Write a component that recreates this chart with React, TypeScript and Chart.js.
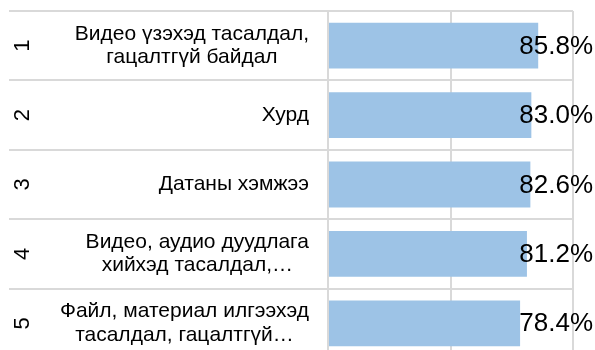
import React, { useEffect, useRef } from 'react';
import { Chart, registerables } from 'chart.js';

Chart.register(...registerables);

const ranks: string[] = ['1', '2', '3', '4', '5'];
const categories: string[][] = [
  ['Видео үзэхэд тасалдал,', 'гацалтгүй байдал'],
  ['Хурд'],
  ['Датаны хэмжээ'],
  ['Видео, аудио дуудлага', 'хийхэд тасалдал,…'],
  ['Файл, материал илгээхэд', 'тасалдал, гацалтгүй…'],
];
const values: number[] = [85.8, 83.0, 82.6, 81.2, 78.4];
const xMin = 0;
const xMax = 100;
const xStep = 50;

const FONT = '"Liberation Sans", Arial, Helvetica, sans-serif';
const GRID = '#d9d9d9';

const textPlugin = {
  id: 'leftAndValueText',
  afterDraw(chart: any) {
    const ctx = chart.ctx as CanvasRenderingContext2D;
    const yScale = chart.scales.y;
    const labelRight = yScale.right - 19;
    const lineH = 23.5;
    ctx.save();
    ctx.fillStyle = '#000000';
    ctx.textBaseline = 'middle';
    (chart.data.labels as string[][]).forEach((lines, i) => {
      const cy = yScale.getPixelForValue(i);
      ctx.font = `21px ${FONT}`;
      const maxW = Math.max(...lines.map((l) => ctx.measureText(l).width));
      const cx = labelRight - maxW / 2;
      ctx.textAlign = 'center';
      lines.forEach((l, j) => {
        ctx.fillText(l, cx, cy + (j - (lines.length - 1) / 2) * lineH);
      });
      ctx.save();
      ctx.font = `22px ${FONT}`;
      ctx.translate(23, cy);
      ctx.rotate(-Math.PI / 2);
      ctx.textAlign = 'center';
      ctx.fillText(ranks[i], 0, 0);
      ctx.restore();
    });
    ctx.font = `26px ${FONT}`;
    ctx.textAlign = 'right';
    const meta = chart.getDatasetMeta(0);
    meta.data.forEach((bar: any, i: number) => {
      const v = chart.data.datasets[0].data[i] as number;
      ctx.fillText(v.toFixed(1) + '%', chart.width - 2, bar.y + 1);
    });
    ctx.restore();
  },
};

export default function App() {
  const ref = useRef<HTMLCanvasElement | null>(null);
  useEffect(() => {
    if (!ref.current) return;
    const chart = new Chart(ref.current, {
      type: 'bar',
      data: {
        labels: categories as any,
        datasets: [
          {
            data: values,
            backgroundColor: '#9dc3e6',
            borderWidth: 0,
            barPercentage: 0.66,
            categoryPercentage: 1,
          },
        ],
      },
      options: {
        indexAxis: 'y',
        animation: false,
        responsive: true,
        maintainAspectRatio: false,
        layout: { padding: { top: 11, left: 9, right: 22, bottom: 0 } },
        plugins: {
          legend: { display: false },
          tooltip: { enabled: false },
        },
        scales: {
          x: {
            min: xMin,
            max: xMax,
            ticks: { display: false, stepSize: xStep },
            grid: { color: GRID, lineWidth: 2, drawTicks: false },
            border: { display: false },
          },
          y: {
            ticks: { display: false },
            grid: { color: GRID, lineWidth: 2, offset: true, drawTicks: true, tickLength: 319 },
            border: { display: false },
            afterFit(scale: any) {
              scale.width = 319;
            },
          },
        },
      },
      plugins: [textPlugin],
    });
    return () => chart.destroy();
  }, []);
  return (
    <div style={{ position: 'fixed', left: 0, top: 0, width: 595, height: 350, overflow: 'hidden', background: '#fff' }}>
      <div style={{ position: 'relative', width: 595, height: 358 }}>
        <canvas ref={ref} />
      </div>
    </div>
  );
}
